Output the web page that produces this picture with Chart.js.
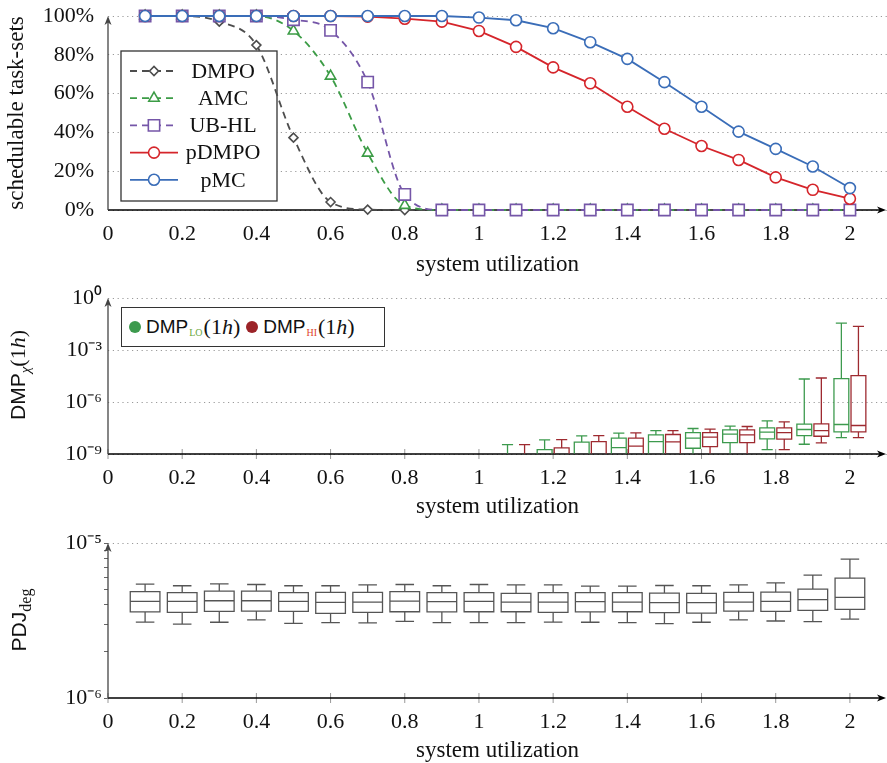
<!DOCTYPE html>
<html>
<head>
<meta charset="utf-8">
<script src="https://cdn.jsdelivr.net/npm/chart.js@4.4.1/dist/chart.umd.min.js"></script>
<style>
  html, body { margin: 0; padding: 0; background: #fff; }
  #wrap { position: relative; width: 887px; height: 763px; overflow: hidden; }
  canvas { position: absolute; left: 0; }
  .ytitle { position: absolute; white-space: nowrap; line-height: 1; color: #111;
            transform: translate(-50%, -50%) rotate(-90deg); font-family: "Liberation Sans"; font-size: 21px; }
  .cm { font-family: "Liberation Serif"; font-size: 22px; }
  .sub { font-size: 14px; position: relative; top: 5px; }
  #dmpLegend { position: absolute; left: 121px; top: 307px; width: 264px; height: 40px; box-sizing: border-box;
               border: 1.3px solid #333; background: #fff; display: flex; align-items: center; padding-left: 7px;
               font-family: "Liberation Sans"; font-size: 19px; color: #111; white-space: nowrap; }
  .dot { display: inline-block; width: 12px; height: 12px; border-radius: 50%; margin-right: 5px; }
  .sc { font-family: "Liberation Serif"; font-size: 10px; position: relative; top: 5px; margin: 0 1px; }
</style>
</head>
<body>
<div id="wrap">
  <canvas id="chartOne" width="887" height="280" style="top:0"></canvas>
  <canvas id="chartTwo" width="887" height="240" style="top:280px"></canvas>
  <canvas id="chartThree" width="887" height="243" style="top:520px"></canvas>

  <div id="dmpLegend">
    <span class="dot" style="background:#3d9a4e"></span>DMP<span class="sc" style="color:#6aa83c">LO</span><span class="cm">(1<i>h</i>)</span>
    <span class="dot" style="background:#9b2328;margin-left:6px"></span>DMP<span class="sc" style="color:#e0442e">HI</span><span class="cm">(1<i>h</i>)</span>
  </div>
  <div class="ytitle" style="left:18px;top:375px">DMP<span class="sub cm" style="font-size:15px"><i>χ</i></span><span class="cm">(1<i>h</i>)</span></div>
  <div class="ytitle" style="left:18px;top:620px">PDJ<span class="sub cm" style="font-size:16px">deg</span></div>
</div>

<script>
// ---- data ----
const utilization = [0.1, 0.2, 0.3, 0.4, 0.5, 0.6, 0.7, 0.8, 0.9, 1.0, 1.1, 1.2, 1.3, 1.4, 1.5, 1.6, 1.7, 1.8, 1.9, 2.0]
const xTicks = [0, 0.2, 0.4, 0.6, 0.8, 1, 1.2, 1.4, 1.6, 1.8, 2]
const pctTicks = [0, 20, 40, 60, 80, 100]

// schedulable task-sets (%)
const dmpo  = [100, 100, 97.1, 85, 37.3, 4.1, 0.2, 0, 0, 0, 0, 0, 0, 0, 0, 0, 0, 0, 0, 0]
const amc   = [100, 100, 100, 100, 92.3, 69, 29.3, 2.4, 0, 0, 0, 0, 0, 0, 0, 0, 0, 0, 0, 0]
const ubhl  = [100, 100, 100, 100, 98.1, 92.6, 65.9, 8, 0, 0, 0, 0, 0, 0, 0, 0, 0, 0, 0, 0]
const pdmpo = [100, 100, 100, 100, 100, 100, 99.7, 98.6, 97.1, 92.3, 84.1, 73.5, 65.3, 53.2, 41.9, 33.0, 25.8, 16.8, 10.4, 5.8]
const pmc   = [100, 100, 100, 100, 100, 100, 100, 100, 100, 99.2, 97.8, 93.7, 86.5, 77.9, 65.9, 53.2, 40.4, 31.5, 22.4, 11.3]

// DMP(1h) box plots
const dmpUtil = [1.1, 1.2, 1.3, 1.4, 1.5, 1.6, 1.7, 1.8, 1.9, 2.0]
const dmpTicks = [1e-9, 1e-6, 1e-3, 1]
const loMin = [1e-11, 1e-11, 1e-11, 1e-11, 1e-11, 5e-10, 5e-10, 1.80e-9, 3.66e-9, 8.91e-9]
const loQ1  = [1e-11, 5e-11, 1e-10, 3e-10, 8e-10, 2.15e-9, 4.57e-9, 7.45e-9, 1.16e-8, 1.89e-8]
const loMed = [3e-11, 2e-10, 5e-10, 2.34e-9, 5.22e-9, 8.15e-9, 1.39e-8, 1.81e-8, 2.59e-8, 5.04e-8]
const loQ3  = [1e-10, 1.80e-9, 4.78e-9, 8.15e-9, 1.27e-8, 1.73e-8, 2.47e-8, 3.23e-8, 5.26e-8, 2.22e-5]
const loMax = [3.50e-9, 6.52e-9, 1.11e-8, 1.58e-8, 2.26e-8, 2.96e-8, 4.04e-8, 8.20e-8, 2.12e-5, 3.55e-2]
const hiMin = [1e-11, 1e-11, 1e-11, 1e-11, 1e-11, 5e-10, 5e-10, 1.80e-9, 4.37e-9, 8.91e-9]
const hiQ1  = [1e-11, 5e-11, 1e-10, 3e-10, 8e-10, 2.68e-9, 4.57e-9, 7.13e-9, 1.06e-8, 1.89e-8]
const hiMed = [3e-11, 2e-10, 5e-10, 2.81e-9, 4.99e-9, 9.31e-9, 1.27e-8, 1.73e-8, 2.26e-8, 4.41e-8]
const hiQ3  = [1e-10, 2.24e-9, 5.22e-9, 8.15e-9, 1.33e-8, 1.73e-8, 2.47e-8, 3.23e-8, 5.51e-8, 3.31e-5]
const hiMax = [3.50e-9, 6.82e-9, 1.16e-8, 1.66e-8, 2.26e-8, 2.70e-8, 3.86e-8, 7.18e-8, 2.43e-5, 2.28e-2]

// PDJ_deg box plots
const pdjTicks = [1e-6, 2e-6, 3e-6, 4e-6, 5e-6, 6e-6, 7e-6, 8e-6, 9e-6, 1e-5]
const pdjMin = [3.09e-6, 3.00e-6, 3.08e-6, 3.19e-6, 3.03e-6, 3.06e-6, 3.05e-6, 3.12e-6, 3.06e-6, 3.06e-6, 3.06e-6, 3.09e-6, 3.08e-6, 3.06e-6, 3.02e-6, 3.08e-6, 3.19e-6, 3.14e-6, 3.11e-6, 3.23e-6]
const pdjQ1  = [3.59e-6, 3.57e-6, 3.62e-6, 3.64e-6, 3.62e-6, 3.52e-6, 3.57e-6, 3.60e-6, 3.59e-6, 3.60e-6, 3.60e-6, 3.57e-6, 3.59e-6, 3.60e-6, 3.55e-6, 3.53e-6, 3.64e-6, 3.62e-6, 3.68e-6, 3.73e-6]
const pdjMed = [4.20e-6, 4.20e-6, 4.24e-6, 4.24e-6, 4.20e-6, 4.14e-6, 4.16e-6, 4.22e-6, 4.18e-6, 4.20e-6, 4.16e-6, 4.16e-6, 4.18e-6, 4.16e-6, 4.12e-6, 4.12e-6, 4.16e-6, 4.20e-6, 4.31e-6, 4.46e-6]
const pdjQ3  = [4.85e-6, 4.78e-6, 4.89e-6, 4.89e-6, 4.78e-6, 4.80e-6, 4.80e-6, 4.85e-6, 4.78e-6, 4.78e-6, 4.73e-6, 4.78e-6, 4.78e-6, 4.78e-6, 4.75e-6, 4.73e-6, 4.80e-6, 4.82e-6, 5.04e-6, 5.93e-6]
const pdjMax = [5.43e-6, 5.30e-6, 5.45e-6, 5.40e-6, 5.30e-6, 5.30e-6, 5.37e-6, 5.40e-6, 5.30e-6, 5.40e-6, 5.37e-6, 5.37e-6, 5.27e-6, 5.27e-6, 5.32e-6, 5.30e-6, 5.37e-6, 5.53e-6, 6.20e-6, 7.86e-6]

// ---- helpers ----
Chart.defaults.font.family = "Liberation Serif"
Chart.defaults.font.size = 22
Chart.defaults.color = "#111"

const SERIF = "Liberation Serif"
const supDigits = "⁰¹²³⁴⁵⁶⁷⁸⁹"
const pow10Label = function(v){
    const e = Math.round(Math.log10(v))
    const s = String(e).split("").map(c => c === "-" ? "⁻" : supDigits[+c]).join("")
    return "10" + s
}
const xLabel = v => String(+v.toFixed(1))

function arrow(ctx, x, y, dir){
    ctx.beginPath()
    if(dir === "right"){
        ctx.moveTo(x, y); ctx.lineTo(x - 9, y - 3.5); ctx.lineTo(x - 6.5, y); ctx.lineTo(x - 9, y + 3.5)
    } else {
        ctx.moveTo(x, y); ctx.lineTo(x - 3.5, y + 9); ctx.lineTo(x, y + 6.5); ctx.lineTo(x + 3.5, y + 9)
    }
    ctx.closePath()
    ctx.fill()
}

// axis lines with arrows (pgfplots style)
const axesPlugin = {
    id: "axes",
    beforeDatasetsDraw(chart, args, opts){
        const {ctx, chartArea: a, scales} = chart
        ctx.save()
        if(opts.tickMarks){
            ctx.strokeStyle = "#999"
            ctx.lineWidth = 1
            scales.x.ticks.forEach(t => {
                const px = scales.x.getPixelForValue(t.value)
                ctx.beginPath(); ctx.moveTo(px, a.bottom - 5); ctx.lineTo(px, a.bottom + 5); ctx.stroke()
            })
        }
        ctx.lineWidth = 1.3
        ctx.strokeStyle = "#000"; ctx.fillStyle = "#000"
        ctx.beginPath(); ctx.moveTo(a.left, a.bottom); ctx.lineTo(chart.width - 5, a.bottom); ctx.stroke()
        arrow(ctx, chart.width - 1, a.bottom, "right")
        ctx.strokeStyle = "#444"; ctx.fillStyle = "#444"
        ctx.beginPath(); ctx.moveTo(a.left, a.bottom); ctx.lineTo(a.left, a.top + 5); ctx.stroke()
        arrow(ctx, a.left, a.top, "up")
        ctx.restore()
    }
}

// legend of the top chart, drawn below the lines like in the original
const lineLegend = {
    id: "lineLegend",
    beforeDatasetsDraw(chart){
        const {ctx} = chart
        ctx.save()
        ctx.fillStyle = "#fff"
        ctx.fillRect(121, 51, 156, 150)
        ctx.strokeStyle = "#333"; ctx.lineWidth = 1.3
        ctx.strokeRect(121, 51, 156, 150)
        chart.data.datasets.forEach((ds, i) => {
            const y = 71 + i * 27.2
            ctx.strokeStyle = ds.borderColor
            ctx.lineWidth = ds.borderWidth
            ctx.setLineDash(ds.borderDash || [])
            ctx.beginPath(); ctx.moveTo(130, y); ctx.lineTo(178, y); ctx.stroke()
            ctx.setLineDash([])
            ctx.fillStyle = "#fff"
            ctx.lineWidth = ds.pointBorderWidth
            Chart.helpers.drawPoint(ctx, {pointStyle: ds.pointStyle, radius: ds.pointRadius, borderWidth: ds.pointBorderWidth, rotation: 0}, 154, y)
            ctx.fillStyle = "#111"
            ctx.font = "22px " + SERIF
            ctx.textAlign = "center"; ctx.textBaseline = "middle"
            ctx.fillText(ds.label, 223, y + 1)
        })
        ctx.restore()
    }
}

// box plots through the chart scales
const boxPlugin = {
    id: "boxes",
    afterDatasetsDraw(chart){
        const {ctx, chartArea: a, scales: {x, y}} = chart
        ctx.save()
        ctx.beginPath()
        ctx.rect(a.left, a.top - 2, a.right - a.left, a.bottom - a.top + 1.5)
        ctx.clip()
        chart.data.datasets.forEach(ds => {
            const s = ds.boxStyle
            ctx.strokeStyle = s.color
            ctx.lineWidth = s.lineWidth
            ds.data.forEach(d => {
                const cx = x.getPixelForValue(d.x + s.shift)
                const hw = x.getPixelForValue(d.x + s.shift + s.boxWidth / 2) - cx
                const cw = x.getPixelForValue(d.x + s.shift + s.capWidth / 2) - cx
                const yLo = y.getPixelForValue(d.lo), yQ1 = y.getPixelForValue(d.q1)
                const yMed = y.getPixelForValue(d.y), yQ3 = y.getPixelForValue(d.q3), yHi = y.getPixelForValue(d.hi)
                ctx.beginPath()
                ctx.moveTo(cx, yHi); ctx.lineTo(cx, yQ3)
                ctx.moveTo(cx, yQ1); ctx.lineTo(cx, yLo)
                ctx.moveTo(cx - cw, yHi); ctx.lineTo(cx + cw, yHi)
                ctx.moveTo(cx - cw, yLo); ctx.lineTo(cx + cw, yLo)
                ctx.moveTo(cx - hw, yMed); ctx.lineTo(cx + hw, yMed)
                ctx.rect(cx - hw, yQ3, 2 * hw, yQ1 - yQ3)
                ctx.stroke()
            })
        })
        ctx.restore()
    }
}

const setTicks = list => scale => { scale.ticks = list.map(v => ({value: v})) }
// fixed axis sizes, no extra room for label overhang
const fixWidth = w => s => { s.width = w; s.paddingTop = 0; s.paddingBottom = 0 }
const fixHeight = h => s => { s.height = h; s.paddingLeft = 0; s.paddingRight = 0 }
const dottedGrid = {color: "#9a9a9a", lineWidth: 1, drawTicks: false}
const xAxis = (height, titlePad) => ({
    type: "linear", min: 0, max: 2.1,
    afterBuildTicks: setTicks(xTicks),
    afterFit: fixHeight(height),
    grid: {display: false},
    border: {display: false},
    ticks: {callback: xLabel, padding: 3, maxRotation: 0, autoSkip: false},
    title: {display: true, text: "system utilization", font: {size: 23}, padding: {top: 0, bottom: titlePad}}
})
const baseOptions = (pad) => ({
    responsive: false,
    animation: false,
    events: [],
    layout: {padding: {top: pad, left: 0, right: 0, bottom: 0}, autoPadding: false},
    plugins: {legend: {display: false}, tooltip: {enabled: false}}
})

// ---- chart 1: schedulability ----
const lineSeries = [
    {label: "DMPO",  data: dmpo,  color: "#4d4d4d", dash: [7, 5], style: "rectRot",  r: 4.5, smooth: true},
    {label: "AMC",   data: amc,   color: "#3c9c46", dash: [7, 5], style: "triangle", r: 6,   smooth: true},
    {label: "UB-HL", data: ubhl,  color: "#7556a8", dash: [7, 5], style: "rect",     r: 8,   smooth: true},
    {label: "pDMPO", data: pdmpo, color: "#d5252b", dash: [],     style: "circle",   r: 5.5, smooth: false},
    {label: "pMC",   data: pmc,   color: "#3a6db8", dash: [],     style: "circle",   r: 5.5, smooth: false}
]

const opts1 = baseOptions(16)
opts1.plugins.axes = {tickMarks: false}
opts1.scales = {
    x: xAxis(70, 1),
    y: {
        type: "linear", min: 0, max: 100,
        afterBuildTicks: setTicks(pctTicks),
        afterFit: fixWidth(108),
        grid: dottedGrid,
        border: {display: false, dash: [1.2, 3.6]},
        ticks: {callback: v => v + "%", padding: 14},
        title: {display: true, text: "schedulable task-sets", font: {size: 23}, padding: {top: 3, bottom: 0}}
    }
}

new Chart(document.querySelector("#chartOne"), {
    type: "line",
    data: {
        datasets: lineSeries.map((s, i) => ({
            label: s.label,
            data: utilization.map((u, k) => ({x: u, y: s.data[k]})),
            borderColor: s.color,
            backgroundColor: "#fff",
            pointBackgroundColor: "#fff",
            borderWidth: 1.8,
            borderDash: s.dash,
            pointStyle: s.style,
            pointRadius: s.r,
            pointBorderWidth: 1.6,
            cubicInterpolationMode: s.smooth ? "monotone" : "default",
            tension: 0,
            clip: false,
            order: lineSeries.length - i
        }))
    },
    options: opts1,
    plugins: [axesPlugin, lineLegend]
})

// ---- chart 2: DMP(1h) ----
const boxData = (xs, mn, q1, md, q3, mx) => xs.map((u, i) => ({x: u, y: md[i], lo: mn[i], q1: q1[i], q3: q3[i], hi: mx[i]}))

const opts2 = baseOptions(18)
opts2.plugins.axes = {tickMarks: true}
opts2.scales = {
    x: xAxis(66, -1),
    y: {
        type: "logarithmic", min: 1e-9, max: 1,
        afterBuildTicks: setTicks(dmpTicks),
        afterFit: fixWidth(108),
        grid: dottedGrid,
        border: {display: false, dash: [1.2, 3.6]},
        ticks: {callback: pow10Label, padding: 6, autoSkip: false}
    }
}

new Chart(document.querySelector("#chartTwo"), {
    type: "scatter",
    data: {
        datasets: [
            {label: "DMP LO", data: boxData(dmpUtil, loMin, loQ1, loMed, loQ3, loMax), pointRadius: 0,
             boxStyle: {color: "#3d9a4e", lineWidth: 1.3, shift: -0.023, boxWidth: 0.04, capWidth: 0.03}},
            {label: "DMP HI", data: boxData(dmpUtil, hiMin, hiQ1, hiMed, hiQ3, hiMax), pointRadius: 0,
             boxStyle: {color: "#9e2a30", lineWidth: 1.3, shift: 0.023, boxWidth: 0.04, capWidth: 0.03}}
        ]
    },
    options: opts2,
    plugins: [axesPlugin, boxPlugin]
})

// ---- chart 3: PDJ_deg ----
const opts3 = baseOptions(23)
opts3.plugins.axes = {tickMarks: true}
opts3.scales = {
    x: xAxis(65, -2),
    y: {
        type: "logarithmic", min: 1e-6, max: 1e-5,
        afterBuildTicks: setTicks(pdjTicks),
        afterFit: fixWidth(108),
        grid: {
            lineWidth: 1, drawTicks: true, tickLength: 4, tickColor: "#666",
            color: c => (c.tick && Math.abs(c.tick.value - 1e-5) < 1e-9) ? "#9a9a9a" : "rgba(0,0,0,0)"
        },
        border: {display: false, dash: [1.2, 3.6]},
        ticks: {callback: v => (Math.abs(v - 1e-6) < 1e-9 || Math.abs(v - 1e-5) < 1e-9) ? pow10Label(v) : "", padding: 2, autoSkip: false}
    }
}

new Chart(document.querySelector("#chartThree"), {
    type: "scatter",
    data: {
        datasets: [
            {label: "PDJ", data: boxData(utilization, pdjMin, pdjQ1, pdjMed, pdjQ3, pdjMax), pointRadius: 0,
             boxStyle: {color: "#555", lineWidth: 1.3, shift: 0, boxWidth: 0.08, capWidth: 0.05}}
        ]
    },
    options: opts3,
    plugins: [axesPlugin, boxPlugin]
})
</script>
</body>
</html>
